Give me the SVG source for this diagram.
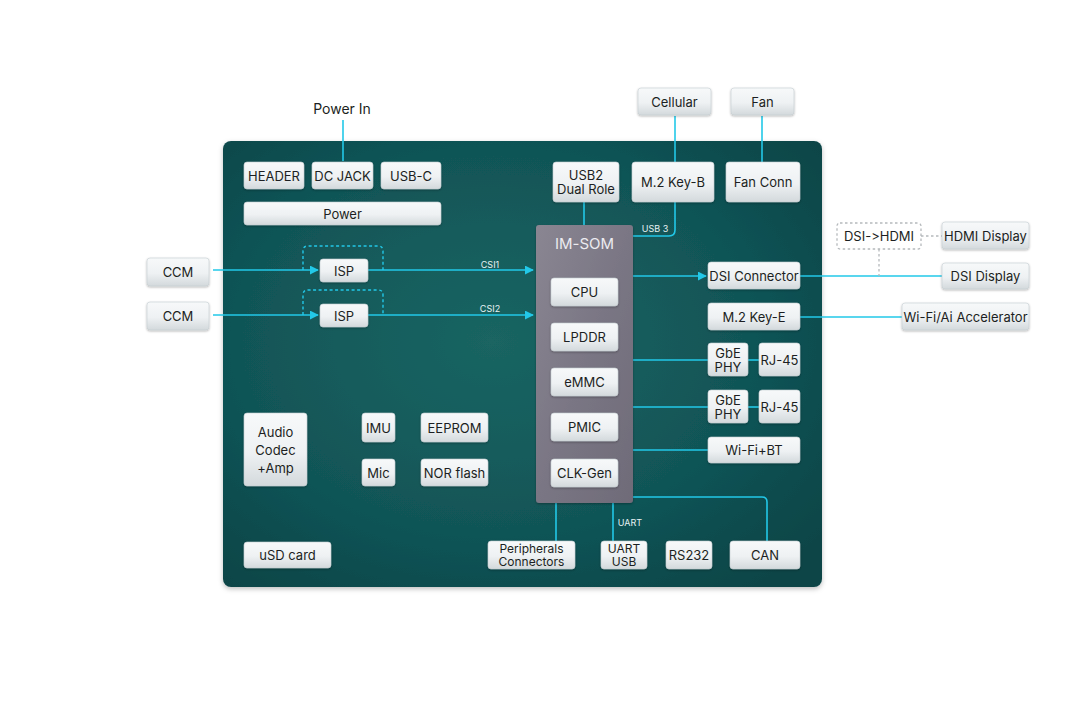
<svg xmlns="http://www.w3.org/2000/svg" width="1080" height="721" viewBox="0 0 1080 721">
<defs>
<radialGradient id="board" cx="0.45" cy="0.45" r="0.7">
<stop offset="0" stop-color="#1a6562"/>
<stop offset="0.6" stop-color="#115557"/>
<stop offset="1" stop-color="#0a4547"/>
</radialGradient>
<linearGradient id="node" x1="0" y1="0" x2="0" y2="1">
<stop offset="0" stop-color="#f7f9fa"/>
<stop offset="0.55" stop-color="#eef1f3"/>
<stop offset="1" stop-color="#d3d9dc"/>
</linearGradient>
<linearGradient id="som" x1="0" y1="0" x2="1" y2="1">
<stop offset="0" stop-color="#8a8692"/>
<stop offset="0.5" stop-color="#7a7684"/>
<stop offset="1" stop-color="#6f6b78"/>
</linearGradient>
<filter id="sh" x="-20%" y="-20%" width="140%" height="150%">
<feDropShadow dx="0" dy="1" stdDeviation="1" flood-color="#000" flood-opacity="0.3"/>
</filter>
<filter id="bsh" x="-5%" y="-5%" width="110%" height="110%">
<feDropShadow dx="0" dy="2" stdDeviation="2.5" flood-color="#000" flood-opacity="0.25"/>
</filter>
<marker id="arr" viewBox="0 0 10 10" refX="9" refY="5" markerWidth="9" markerHeight="9" markerUnits="userSpaceOnUse" orient="auto">
<path d="M0,0 L10,5 L0,10 z" fill="#22c8e8"/>
</marker>
</defs>
<style>
.n{fill:url(#node);stroke:#c4ccd0;stroke-width:0.6;filter:url(#sh)}
.t{font-family:Inter,"Liberation Sans",sans-serif;font-size:13px;fill:#1c1f22;text-anchor:middle;dominant-baseline:central;font-variant-ligatures:none;font-feature-settings:"calt" 0,"liga" 0}
.t2{font-size:12px}
.s{font-family:Inter,"Liberation Sans",sans-serif;font-size:9px;fill:#e6f2f3;text-anchor:middle;dominant-baseline:central}
.c{fill:none;stroke:#22c8e8;stroke-width:1.6}
.d{fill:none;stroke:#22c8e8;stroke-width:1.4;stroke-dasharray:3 2.5}
.g{fill:none;stroke:#b5b9bc;stroke-width:1.3;stroke-dasharray:2.5 2.5}
</style>
<rect width="1080" height="721" fill="#ffffff"/>
<rect id="board-bg" x="223" y="141" width="599" height="446" rx="8" fill="url(#board)" filter="url(#bsh)"/>
<text class="t" x="342" y="108" style="font-size:14px">Power In</text>

<g id="connectors">
<path class="c" d="M343,120 V161"/>
<path class="c" d="M675,116 V162"/>
<path class="c" d="M762,116 V162"/>
<path class="c" d="M584,202 V225"/>
<path class="c" d="M633,236 H669 Q675,236 675,230 V202"/>
<path class="c" d="M213,270 H318" marker-end="url(#arr)"/>
<path class="c" d="M213,315 H318" marker-end="url(#arr)"/>
<path class="d" d="M303,270 V251 Q303,246 308,246 H378 Q383,246 383,251 V270"/>
<path class="d" d="M303,315 V295 Q303,290 308,290 H378 Q383,290 383,295 V315"/>
<path class="c" d="M368,270 H533" marker-end="url(#arr)"/>
<path class="c" d="M368,315 H533" marker-end="url(#arr)"/>
<path class="c" d="M633,276 H706" marker-end="url(#arr)"/>
<path class="c" d="M800,276 H942"/>
<path class="c" d="M800,317 H902"/>
<path class="c" d="M633,360 H708"/>
<path class="c" d="M748,360 H759"/>
<path class="c" d="M633,407 H708"/>
<path class="c" d="M748,407 H759"/>
<path class="c" d="M633,450 H708"/>
<path class="c" d="M633,497 H762 Q767,497 767,502 V541"/>
<path class="c" d="M556,503 V541"/>
<path class="c" d="M613,503 V541"/>
<path class="g" d="M921,236 H942"/>
<path class="g" d="M879,249 V276"/>
<text class="s" x="490" y="264">CSI1</text>
<text class="s" x="490" y="308">CSI2</text>
<text class="s" x="655" y="228">USB 3</text>
<text class="s" x="630" y="522">UART</text>
</g>

<g id="header"><rect class="n" x="244" y="162" width="60" height="27" rx="3"/><text class="t" x="274" y="176">HEADER</text></g>
<g id="dcjack"><rect class="n" x="312" y="162" width="61" height="27" rx="3"/><text class="t" x="342.5" y="176">DC JACK</text></g>
<g id="usbc"><rect class="n" x="381" y="162" width="60" height="27" rx="3"/><text class="t" x="411" y="176">USB-C</text></g>
<g id="power"><rect class="n" x="244" y="202" width="197" height="23" rx="3"/><text class="t" x="342.5" y="214">Power</text></g>

<g id="ccm1"><rect class="n" x="147" y="258" width="62" height="28" rx="3"/><text class="t" x="178" y="272">CCM</text></g>
<g id="ccm2"><rect class="n" x="147" y="302" width="62" height="28" rx="3"/><text class="t" x="178" y="316">CCM</text></g>
<g id="isp1"><rect class="n" x="320" y="259" width="48" height="23" rx="3"/><text class="t" x="344" y="271">ISP</text></g>
<g id="isp2"><rect class="n" x="320" y="304" width="48" height="23" rx="3"/><text class="t" x="344" y="316">ISP</text></g>

<g id="usb2"><rect class="n" x="553" y="162" width="66" height="40" rx="3"/><text class="t" x="586" y="175">USB2</text><text class="t" x="586" y="189">Dual Role</text></g>
<g id="m2b"><rect class="n" x="632" y="162" width="82" height="40" rx="3"/><text class="t" x="673" y="182">M.2 Key-B</text></g>
<g id="fanconn"><rect class="n" x="726" y="162" width="74" height="40" rx="3"/><text class="t" x="763" y="182">Fan Conn</text></g>
<g id="cellular"><rect class="n" x="638" y="88" width="73" height="27" rx="3"/><text class="t" x="674.5" y="102">Cellular</text></g>
<g id="fan"><rect class="n" x="731" y="88" width="63" height="27" rx="3"/><text class="t" x="762.5" y="102">Fan</text></g>

<g id="imsom">
<rect x="536" y="225" width="97" height="278" rx="3" fill="url(#som)" filter="url(#sh)"/>
<text class="t" x="584.5" y="243" style="font-size:15px;fill:#ecebf0">IM-SOM</text>
</g>
<g id="cpu"><rect class="n" x="551" y="278" width="67" height="28" rx="3"/><text class="t" x="584.5" y="292">CPU</text></g>
<g id="lpddr"><rect class="n" x="551" y="323" width="67" height="28" rx="3"/><text class="t" x="584.5" y="337">LPDDR</text></g>
<g id="emmc"><rect class="n" x="551" y="368" width="67" height="28" rx="3"/><text class="t" x="584.5" y="382">eMMC</text></g>
<g id="pmic"><rect class="n" x="551" y="413" width="67" height="28" rx="3"/><text class="t" x="584.5" y="427">PMIC</text></g>
<g id="clkgen"><rect class="n" x="551" y="459" width="67" height="28" rx="3"/><text class="t" x="584.5" y="473">CLK-Gen</text></g>

<g id="dsiconn"><rect class="n" x="708" y="262" width="92" height="27" rx="3"/><text class="t" x="754" y="276">DSI Connector</text></g>
<g id="m2e"><rect class="n" x="708" y="303" width="92" height="27" rx="3"/><text class="t" x="754" y="317">M.2 Key-E</text></g>
<g id="gbe1"><rect class="n" x="708" y="343" width="40" height="33" rx="3"/><text class="t" x="728" y="353">GbE</text><text class="t" x="728" y="367">PHY</text></g>
<g id="rj1"><rect class="n" x="759" y="343" width="41" height="33" rx="3"/><text class="t" x="779.5" y="360">RJ-45</text></g>
<g id="gbe2"><rect class="n" x="708" y="390" width="40" height="33" rx="3"/><text class="t" x="728" y="400">GbE</text><text class="t" x="728" y="414">PHY</text></g>
<g id="rj2"><rect class="n" x="759" y="390" width="41" height="33" rx="3"/><text class="t" x="779.5" y="407">RJ-45</text></g>
<g id="wifibt"><rect class="n" x="708" y="437" width="92" height="26" rx="3"/><text class="t" x="754" y="450">Wi-Fi+BT</text></g>

<g id="dsihdmi"><rect x="837" y="223" width="84" height="26" rx="3" fill="#ffffff" stroke="#b5b9bc" stroke-width="1.3" stroke-dasharray="2.5 2.5"/><text class="t" x="879" y="236">DSI-&gt;HDMI</text></g>
<g id="hdmidisp"><rect class="n" x="942" y="222" width="87" height="27" rx="3"/><text class="t" x="985.5" y="236">HDMI Display</text></g>
<g id="dsidisp"><rect class="n" x="942" y="263" width="87" height="26" rx="3"/><text class="t" x="985.5" y="276">DSI Display</text></g>
<g id="wifiai"><rect class="n" x="902" y="303" width="127" height="27" rx="3"/><text class="t" x="965.5" y="317">Wi-Fi/Ai Accelerator</text></g>

<g id="audio"><rect class="n" x="244" y="413" width="63" height="73" rx="3"/><text class="t" x="275.5" y="432">Audio</text><text class="t" x="275.5" y="450">Codec</text><text class="t" x="275.5" y="468">+Amp</text></g>
<g id="imu"><rect class="n" x="362" y="413" width="33" height="29" rx="3"/><text class="t" x="378.5" y="427.5">IMU</text></g>
<g id="eeprom"><rect class="n" x="421" y="413" width="67" height="29" rx="3"/><text class="t" x="454.5" y="427.5">EEPROM</text></g>
<g id="mic"><rect class="n" x="362" y="459" width="33" height="27" rx="3"/><text class="t" x="378.5" y="472.5">Mic</text></g>
<g id="norflash"><rect class="n" x="421" y="459" width="67" height="27" rx="3"/><text class="t" x="454.5" y="472.5">NOR flash</text></g>

<g id="usd"><rect class="n" x="244" y="542" width="87" height="26" rx="3"/><text class="t" x="287.5" y="555">uSD card</text></g>
<g id="periph"><rect class="n" x="488" y="541" width="87" height="28" rx="3"/><text class="t t2" x="531.5" y="548.5">Peripherals</text><text class="t t2" x="531.5" y="561.5">Connectors</text></g>
<g id="uartusb"><rect class="n" x="601" y="541" width="46" height="28" rx="3"/><text class="t t2" x="624" y="548.5">UART</text><text class="t t2" x="624" y="561.5">USB</text></g>
<g id="rs232"><rect class="n" x="666" y="541" width="46" height="28" rx="3"/><text class="t" x="689" y="555">RS232</text></g>
<g id="can"><rect class="n" x="730" y="541" width="70" height="28" rx="3"/><text class="t" x="765" y="555">CAN</text></g>
</svg>
